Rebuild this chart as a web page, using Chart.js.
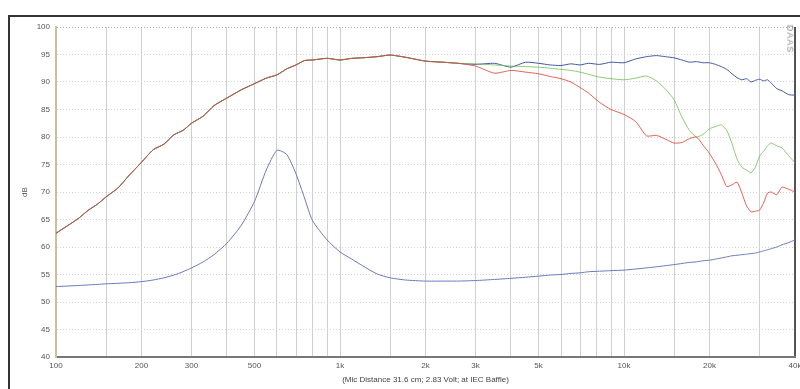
<!DOCTYPE html>
<html>
<head>
<meta charset="utf-8">
<script src="https://cdn.jsdelivr.net/npm/chart.js@4"></script>
<style>
  html, body { margin: 0; padding: 0; background: #fff; }
  #wrap { position: relative; width: 800px; height: 389px; overflow: hidden; }
  #frame { position: absolute; left: 8px; top: 15px; width: 820px; height: 420px;
           border-left: 2px solid #333; border-top: 2px solid #333; }
  #stamp { position: absolute; left: 776px; top: 34px; transform: rotate(90deg);
           font: 9px "Liberation Sans", Arial, sans-serif; color: #888; letter-spacing: 1px; }
  canvas { position: absolute; left: 0; top: 0; }
</style>
</head>
<body>
<div id="wrap">
  <div id="frame"></div>
  <canvas id="fr" width="800" height="389"></canvas>
  <div id="stamp">DAAS</div>
</div>
<script>
// frequenzen (Hz)
const freq = [100, 110, 120, 130, 140, 150, 165, 180, 200, 220, 240, 260, 280, 300, 330, 360, 400, 450, 500, 550,
  600, 650, 700, 750, 800, 900, 1000, 1100, 1200, 1350, 1500, 1700, 2000, 2300, 2600,
  3000, 3500, 4000, 4500, 5000, 5500, 6000, 6500, 7000, 7500, 8200, 9000, 10000, 11000, 12000, 13000, 14000,
  15000, 16000, 17000, 18000, 19000, 20000, 21000, 22000, 23000, 24000, 25000, 26000, 27000, 28000, 29000,
  30000, 31000, 32000, 33000, 34500, 36000, 38000, 40000];

// gemeinsamer Verlauf bis 2.6k (alle Winkel gleich)
const lowDb = [62.5, 63.9, 65.2, 66.7, 67.8, 69.1, 70.7, 72.9, 75.4, 77.7, 78.7, 80.4, 81.2, 82.5, 83.8, 85.7, 87.1, 88.6, 89.7, 90.7,
  91.3, 92.4, 93.1, 93.9, 94.0, 94.3, 94.0, 94.3, 94.4, 94.6, 94.9, 94.5, 93.8, 93.6, 93.4];

// ab 3k
const onAxisHigh = [93.2, 93.4, 92.7, 93.6, 93.4, 93.1, 93.0, 93.3, 93.1, 93.4, 93.2, 93.6, 93.5, 94.2, 94.6, 94.8, 94.6,
  94.4, 94.0, 93.6, 93.7, 93.5, 93.5, 93.2, 92.8, 92.3, 91.5, 90.8, 90.4, 90.6, 90.0, 90.3,
  90.5, 90.2, 90.4, 89.8, 88.8, 88.4, 87.7, 87.6];
const deg30High = [93.3, 93.1, 92.9, 92.8, 92.7, 92.5, 92.3, 92.1, 91.8, 91.4, 90.9, 90.6, 90.4, 90.7, 91.1, 90.2, 88.7,
  86.8, 83.6, 81.2, 80.0, 80.5, 81.5, 81.9, 82.2, 81.2, 78.8, 76.0, 74.5, 74.0, 73.5, 74.5,
  76.5, 77.4, 78.4, 78.9, 78.4, 78.0, 76.6, 75.3];
const deg60High = [92.9, 91.6, 92.1, 91.8, 91.5, 91.0, 90.6, 90.0, 89.0, 88.0, 86.3, 85.0, 84.1, 82.8, 80.2, 80.3, 79.6,
  78.9, 79.0, 79.7, 80.0, 78.5, 77.0, 75.2, 73.2, 71.0, 71.3, 71.8, 69.8, 67.5, 66.4, 66.5,
  66.7, 68.0, 69.8, 70.0, 69.5, 70.9, 70.5, 70.0];

// Impedanz (auf dB-Skala)
const impDb = [52.8, 52.9, 53.0, 53.1, 53.2, 53.3, 53.4, 53.5, 53.7, 54.0, 54.4, 54.9, 55.5, 56.2, 57.3, 58.6, 60.7, 64.0, 68.3, 74.0,
  77.6, 76.8, 73.3, 68.9, 64.8, 61.3, 59.1, 57.8, 56.6, 55.1, 54.4, 54.0, 53.8, 53.8, 53.8,
  53.9, 54.1, 54.3, 54.5, 54.7, 54.9, 55.0, 55.2, 55.3, 55.5, 55.6, 55.7, 55.8, 56.0, 56.2, 56.4, 56.6,
  56.8, 57.0, 57.2, 57.3, 57.5, 57.6, 57.8, 58.0, 58.2, 58.4, 58.5, 58.6, 58.7, 58.8, 58.9,
  59.1, 59.3, 59.5, 59.7, 60.0, 60.4, 60.8, 61.3];

const xTicks = [100, 150, 200, 300, 400, 500, 600, 700, 800, 900, 1000, 1500, 2000, 3000, 4000, 5000, 6000, 7000, 8000, 9000,
  10000, 15000, 20000, 30000, 40000];
const xLabels = { 100: "100", 200: "200", 300: "300", 500: "500", 1000: "1k", 2000: "2k", 3000: "3k", 5000: "5k",
  10000: "10k", 20000: "20k", 40000: "40k" };

function pts(vals) {
  return vals.map((v, i) => ({ x: freq[i], y: v }));
}

const font = { family: "'Liberation Sans', Arial, sans-serif", size: 8 };

// erster Datensatz liegt oben
new Chart(document.getElementById("fr").getContext("2d"), {
  type: "line",
  data: {
    datasets: [
      { data: pts(lowDb.concat(deg60High)), borderColor: "rgba(222,60,45,0.8)" },
      { data: pts(lowDb.concat(deg30High)), borderColor: "rgba(110,190,85,0.8)" },
      { data: pts(lowDb.concat(onAxisHigh)), borderColor: "#3f58a6" },
      { data: pts(impDb), borderColor: "#6a78b8" }
    ]
  },
  options: {
    responsive: false,
    animation: false,
    devicePixelRatio: 1,
    layout: { padding: { top: 27, right: 5, left: 0, bottom: 0 } },
    elements: {
      point: { radius: 0 },
      line: { borderWidth: 1, tension: 0.2, fill: false }
    },
    plugins: { legend: { display: false }, tooltip: { enabled: false } },
    scales: {
      x: {
        type: "logarithmic",
        min: 100,
        max: 40000,
        afterBuildTicks: (s) => { s.ticks = xTicks.map(v => ({ value: v })); },
        afterFit: (s) => { s.height = 32; s.paddingLeft = 0; s.paddingRight = 0; },
        grid: {
          drawTicks: false,
          color: (c) => (c.tick && c.tick.value === 40000 ? "#555" : "#cfcfcf"),
          lineWidth: (c) => (c.tick && c.tick.value === 40000 ? 2 : 1)
        },
        border: { color: "#777", width: 2 },
        ticks: {
          autoSkip: false,
          maxRotation: 0,
          padding: 4,
          color: "#555",
          font: font,
          callback: (v) => xLabels[v] || ""
        },
        title: {
          display: true,
          text: "(Mic Distance 31.6 cm; 2.83 Volt; at IEC Baffle)",
          color: "#444",
          font: font,
          padding: { top: 4, bottom: 4 }
        }
      },
      y: {
        min: 40,
        max: 100,
        afterFit: (s) => { s.width = 56; },
        grid: {
          drawTicks: false,
          color: (c) => (c.tick && c.tick.value === 100 ? "#aaa" : "#d4d4d4")
        },
        border: { color: "#cbbf9f", width: 2, dash: [1, 2] },
        ticks: { stepSize: 5, padding: 6, color: "#555", font: font },
        title: {
          display: true,
          text: "dB",
          color: "#555",
          font: font,
          padding: { top: 20, bottom: 0 }
        }
      }
    }
  }
});
</script>
</body>
</html>
